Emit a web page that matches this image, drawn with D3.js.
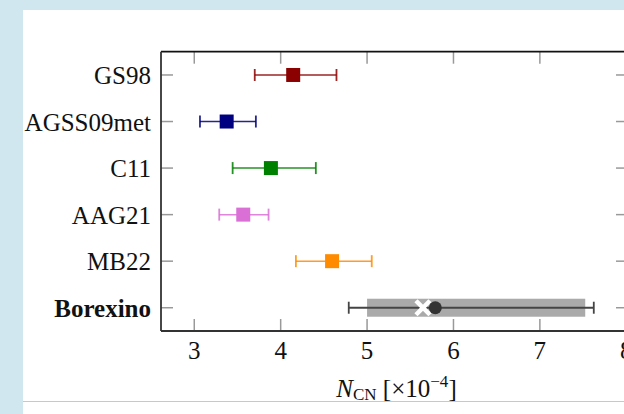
<!DOCTYPE html>
<html><head><meta charset="utf-8">
<script src="https://cdn.jsdelivr.net/npm/d3@7"></script>
<style>html,body{margin:0;padding:0;background:#d0e7f0;overflow:hidden}</style>
</head><body>
<script>
// ---- data ----
const categories = ["GS98","AGSS09met","C11","AAG21","MB22","Borexino"];
const centers = [4.145, 3.375, 3.887, 3.567, 4.595, 5.79];
const lowers  = [3.70, 3.066, 3.444, 3.289, 4.176, 4.788];
const uppers  = [4.646, 3.713, 4.407, 3.86, 5.054, 7.624];
const borexinoBand = [5.0, 7.525];
const borexinoBestFit = 5.647;
const xTicks = [3,4,5,6,7,8];

const colors = {GS98:"#8b0000",AGSS09met:"#000080",C11:"#008000",AAG21:"#da70d6",MB22:"#ff8c00",Borexino:"#333333"};

const W=624,H=414;
const svg=d3.select("body").append("svg").attr("width",W).attr("height",H);
// panel
svg.append("rect").attr("x",23).attr("y",10).attr("width",W-23).attr("height",H-10).attr("fill","#fff");
svg.append("line").attr("x1",23).attr("x2",W).attr("y1",401.5).attr("y2",401.5).attr("stroke","#c8c8c8").attr("stroke-width",1);

const L=161,R=628,T=51.7,B=331;
const x=d3.scaleLinear().domain([2.615,8.02]).range([L,R]);
const y=d3.scaleBand().domain(categories).range([T,B]).padding(0);
const yc=c=>y(c)+y.bandwidth()/2;

const font="'Liberation Serif','Times New Roman',serif";
const g=svg.append("g");

const tickLen=12;
xTicks.forEach(t=>{
  g.append("line").attr("x1",x(t)).attr("x2",x(t)).attr("y1",B).attr("y2",B-tickLen).attr("stroke","#999").attr("stroke-width",1.5);
  g.append("line").attr("x1",x(t)).attr("x2",x(t)).attr("y1",T).attr("y2",T+tickLen).attr("stroke","#999").attr("stroke-width",1.5);
  g.append("text").attr("x",x(t)).attr("y",358.5).attr("text-anchor","middle").attr("font-family",font).attr("font-size",25).attr("fill","#111").text(t);
});
categories.forEach(c=>{
  g.append("line").attr("x1",L).attr("x2",L+tickLen).attr("y1",yc(c)).attr("y2",yc(c)).attr("stroke","#999").attr("stroke-width",1.5);
  g.append("line").attr("x1",R).attr("x2",R-tickLen).attr("y1",yc(c)).attr("y2",yc(c)).attr("stroke","#999").attr("stroke-width",1.5);
  g.append("text").attr("x",151).attr("y",yc(c)+9).attr("text-anchor","end").attr("font-family",font).attr("font-size",25)
    .attr("font-weight",c==="Borexino"?"bold":"normal").attr("fill","#111").text(c);
});

// Borexino band
g.append("rect").attr("x",x(borexinoBand[0])).attr("width",x(borexinoBand[1])-x(borexinoBand[0]))
  .attr("y",yc("Borexino")-9).attr("height",18).attr("fill","#aaaaaa");

// error bars
categories.forEach((c,i)=>{
  const col=colors[c], cy=yc(c);
  const bx = c==="Borexino";
  g.append("line").attr("x1",x(lowers[i])).attr("x2",x(uppers[i])).attr("y1",cy).attr("y2",cy).attr("stroke",bx?"#444":col).attr("stroke-width",bx?2:1.5).attr("opacity",bx?1:0.85);
  [lowers[i],uppers[i]].forEach(v=>{
    g.append("line").attr("x1",x(v)).attr("x2",x(v)).attr("y1",cy-6).attr("y2",cy+6).attr("stroke",bx?"#444":col).attr("stroke-width",1.8).attr("opacity",bx?1:0.85);
  });
  if(!bx){
    g.append("rect").attr("x",x(centers[i])-7).attr("y",cy-7).attr("width",14).attr("height",14).attr("fill",col);
  }
});
{
  const cy=yc("Borexino"), bx=x(borexinoBestFit), s=7;
  g.append("path").attr("d",`M${bx-s},${cy-s}L${bx+s},${cy+s}M${bx-s},${cy+s}L${bx+s},${cy-s}`).attr("stroke","#fff").attr("stroke-width",4.5);
  g.append("circle").attr("cx",x(centers[5])).attr("cy",cy).attr("r",6.5).attr("fill","#333");
}

// frame
g.append("line").attr("x1",L).attr("x2",R).attr("y1",T).attr("y2",T).attr("stroke","#111").attr("stroke-width",1.8);
g.append("line").attr("x1",L).attr("x2",R).attr("y1",B).attr("y2",B).attr("stroke","#333").attr("stroke-width",1.8);
g.append("line").attr("x1",L).attr("x2",L).attr("y1",T).attr("y2",B).attr("stroke","#333").attr("stroke-width",1.8);
g.append("line").attr("x1",R).attr("x2",R).attr("y1",T).attr("y2",B).attr("stroke","#333").attr("stroke-width",1.8);

// axis label
const lab=g.append("text").attr("x",(L+R)/2+2).attr("y",396.5).attr("text-anchor","middle").attr("font-family",font).attr("font-size",25).attr("fill","#111");
lab.append("tspan").attr("font-style","italic").text("N");
lab.append("tspan").attr("font-size",17).attr("dy",3).text("CN");
lab.append("tspan").attr("dy",-3).text(" [×10");
lab.append("tspan").attr("font-size",17).attr("dy",-10).text("−4");
lab.append("tspan").attr("dy",10).text("]");
</script>
</body></html>
